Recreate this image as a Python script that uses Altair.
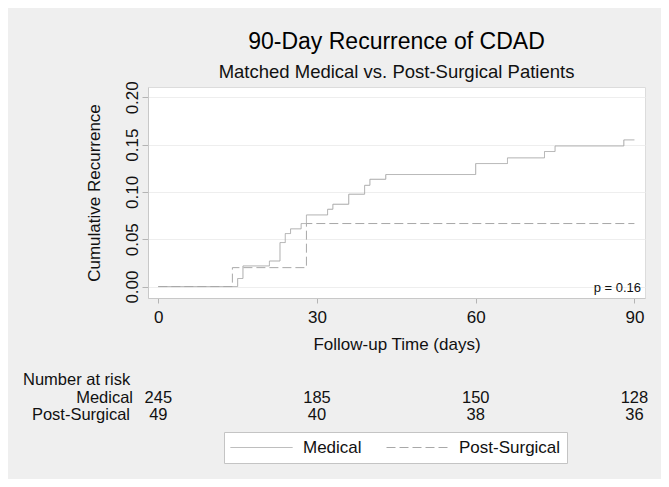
import altair as alt
import pandas as pd

# ---- data ----
groups = ["Medical", "Post-Surgical"]

med_days = [0, 15, 16, 21, 23, 24, 25, 27, 28, 32, 33, 36, 39, 40, 43, 60, 66, 73, 75, 88, 90]
med_cum = [0.0, 0.0085, 0.0218, 0.027, 0.0465, 0.056, 0.061, 0.0666, 0.0757, 0.0817,
           0.087, 0.0976, 0.107, 0.1134, 0.1184, 0.130, 0.136, 0.1427, 0.1486, 0.155, 0.155]

surg_days = [0, 14, 28, 90]
surg_cum = [0.0, 0.020, 0.0666, 0.0666]

risk_days = [0, 30, 60, 90]
risk_medical = [245, 185, 150, 128]
risk_surgical = [49, 40, 38, 36]

x_ticks = [0, 30, 60, 90]
y_ticks = [0.0, 0.05, 0.10, 0.15, 0.20]

title_text = "90-Day Recurrence of CDAD"
subtitle_text = "Matched Medical vs. Post-Surgical Patients"
p_label = "p = 0.16"
risk_header = "Number at risk"

# ---- tables ----
curves = pd.concat([
    pd.DataFrame({"day": med_days, "cum": med_cum, "group": groups[0]}),
    pd.DataFrame({"day": surg_days, "cum": surg_cum, "group": groups[1]}),
], ignore_index=True)
risk_med_df = pd.DataFrame({"day": risk_days, "n": risk_medical})
risk_surg_df = pd.DataFrame({"day": risk_days, "n": risk_surgical})

FONT = "Liberation Sans"
LINE = "#a8a8a8"
TXT = "#111111"
RISK_FS = 16.5

x_enc = alt.X(
    "day:Q",
    scale=alt.Scale(domain=[-1.95, 92.0], nice=False, zero=False),
    axis=alt.Axis(values=x_ticks, title="Follow-up Time (days)", grid=False,
                  tickSize=5, labelPadding=6, titlePadding=11),
)
y_enc = alt.Y(
    "cum:Q",
    scale=alt.Scale(domain=[-0.0121, 0.2109], nice=False, zero=False),
    axis=alt.Axis(values=y_ticks, format=".2f", title="Cumulative Recurrence",
                  grid=True, labelAngle=270, labelAlign="center",
                  labelBaseline="alphabetic", tickSize=6, labelPadding=5,
                  titlePadding=20),
)

lines = alt.Chart(curves).mark_line(
    interpolate="step-after", strokeWidth=1, color=LINE
).encode(
    x=x_enc,
    y=y_enc,
    strokeDash=alt.StrokeDash(
        "group:N",
        scale=alt.Scale(domain=groups, range=[[1, 0], [9, 4]]),
        legend=alt.Legend(
            title=None, orient="none", legendX=76, legendY=345,
            direction="horizontal", symbolType="stroke", symbolSize=3844,
            symbolStrokeWidth=1, symbolStrokeColor=LINE, clipHeight=19,
            labelFontSize=17, labelOffset=10, columnPadding=24,
            padding=6, fillColor="white", strokeColor="#c4c4c4",
            labelColor=TXT, labelFont=FONT, labelLimit=200,
        ),
    ),
)

p_text = alt.Chart(pd.DataFrame({"t": [p_label]})).mark_text(
    align="right", baseline="alphabetic", fontSize=13, font=FONT, color=TXT
).encode(text="t:N", x=alt.value(493), y=alt.value(205))

header = alt.Chart(pd.DataFrame({"t": [risk_header]})).mark_text(
    align="left", baseline="alphabetic", fontSize=RISK_FS, font=FONT, color=TXT
).encode(text="t:N", x=alt.value(-125), y=alt.value(298))

row_med_label = alt.Chart(pd.DataFrame({"t": [groups[0]]})).mark_text(
    align="right", baseline="alphabetic", fontSize=RISK_FS, font=FONT, color=TXT
).encode(text="t:N", x=alt.value(-15), y=alt.value(316))

row_surg_label = alt.Chart(pd.DataFrame({"t": [groups[1]]})).mark_text(
    align="right", baseline="alphabetic", fontSize=RISK_FS, font=FONT, color=TXT
).encode(text="t:N", x=alt.value(-18), y=alt.value(333))

row_med = alt.Chart(risk_med_df).mark_text(
    align="center", baseline="alphabetic", fontSize=RISK_FS, font=FONT, color=TXT
).encode(x=x_enc, text="n:Q", y=alt.value(316))

row_surg = alt.Chart(risk_surg_df).mark_text(
    align="center", baseline="alphabetic", fontSize=RISK_FS, font=FONT, color=TXT
).encode(x=x_enc, text="n:Q", y=alt.value(333))

chart = alt.layer(
    lines, p_text, header, row_med_label, row_surg_label, row_med, row_surg
).properties(
    width=497,
    height=211,
    autosize=alt.AutoSizeParams(type="none"),
    padding={"left": 140, "top": 79, "right": 16, "bottom": 181},
    title=alt.TitleParams(
        text=title_text, subtitle=subtitle_text, anchor="middle",
        fontSize=23, subtitleFontSize=18.5, font=FONT, subtitleFont=FONT,
        fontWeight="normal", color="#000000", subtitleColor=TXT,
        offset=-1, subtitlePadding=9,
    ),
).configure(
    background="#efefef",
).configure_view(
    fill="white", stroke="#dcdcdc", strokeWidth=1,
).configure_axis(
    labelFont=FONT, titleFont=FONT, labelFontSize=17, titleFontSize=17,
    labelColor=TXT, titleColor=TXT, titleFontWeight="normal",
    domainColor="#c8c8c8", tickColor="#b4b4b4", gridColor="#eeeeee",
    domainWidth=1, tickWidth=1, gridWidth=1,
)

chart.save("out.html", embed_options={"renderer": "svg", "actions": False})
